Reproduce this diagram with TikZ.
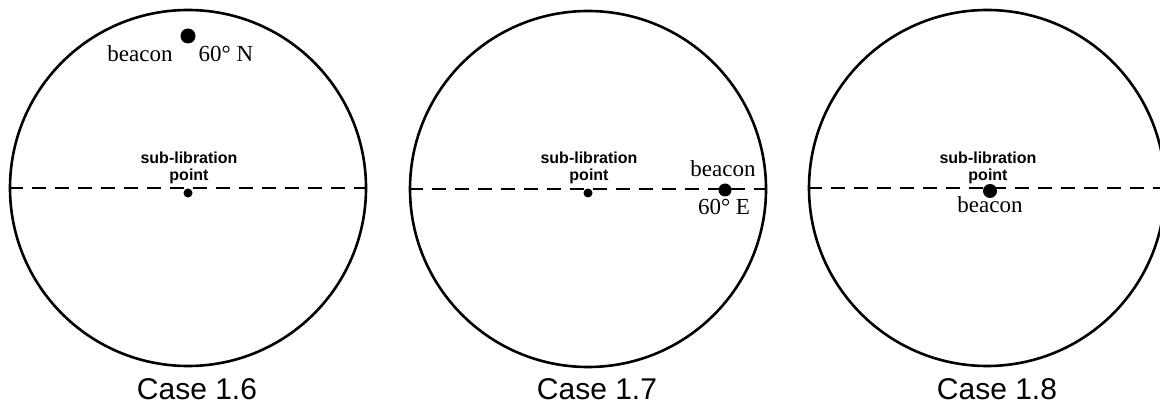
\documentclass[tikz,border=0pt]{standalone}
\usepackage{fontspec}
\setmainfont{Liberation Serif}
\setsansfont{Liberation Sans}
\usetikzlibrary{calc}

\begin{document}
\begin{tikzpicture}[x=0.5pt,y=-0.5pt,
  globe/.style={draw,circle,line width=1.3pt,minimum size=178pt,inner sep=0pt},
  equator/.style={dashed,line width=1pt,dash pattern=on 7pt off 4.5pt},
  beacondot/.style={circle,fill,inner sep=0pt,minimum size=#1},
  beacondot/.default=7.5pt,
  subdot/.style={circle,fill,inner sep=0pt,minimum size=4.5pt},
  sublabel/.style={font=\sffamily\bfseries\fontsize{8}{8.5}\selectfont,align=center,inner sep=0pt},
  beaconlabel/.style={font=\fontsize{11.5}{12}\selectfont,inner sep=0pt,anchor=base},
  caselabel/.style={font=\sffamily\fontsize{15}{16}\selectfont,inner sep=0pt,anchor=base}]
  \useasboundingbox (0,0) rectangle (1160,405);
  \clip (0,0) rectangle (1160,405);

  % cerchi
  \node[globe] (g1) at (188,188) {};
  \node[globe] (g2) at (588,189) {};
  \node[globe] (g3) at (987,188) {};

  % equatori
  \draw[equator] (g1.west) -- (g1.east);
  \draw[equator] (g2.west) -- (g2.east);
  \draw[equator] (g3.west) -- (g3.east);

  % punti sub-libration
  \node[subdot] (s1) at (188,193) {};
  \node[subdot] (s2) at (588,193) {};
  \node[sublabel,anchor=south] (t1) at (189,184) {sub-libration\\point};
  \node[sublabel,anchor=south] (t2) at (589,184) {sub-libration\\point};
  \node[sublabel,anchor=south] (t3) at (988,184) {sub-libration\\point};

  % beacon
  \node[beacondot] (b1) at (188,36) {};
  \node[beaconlabel] (l1) at (140,62) {beacon};
  \node[beaconlabel] (n1) at (226,62) {60° N};

  \node[beacondot=6.5pt] (b2) at (725,190) {};
  \node[beaconlabel] (l2) at (723,177) {beacon};
  \node[beaconlabel] (e2) at (724,215) {60° E};

  \node[beacondot=7pt] (b3) at (990,191) {};
  \node[beaconlabel] (l3) at (990,213) {beacon};

  % didascalie
  \node[caselabel] (c1) at (197,399) {Case 1.6};
  \node[caselabel] (c2) at (597,399) {Case 1.7};
  \node[caselabel] (c3) at (997,399) {Case 1.8};
\end{tikzpicture}
\end{document}
